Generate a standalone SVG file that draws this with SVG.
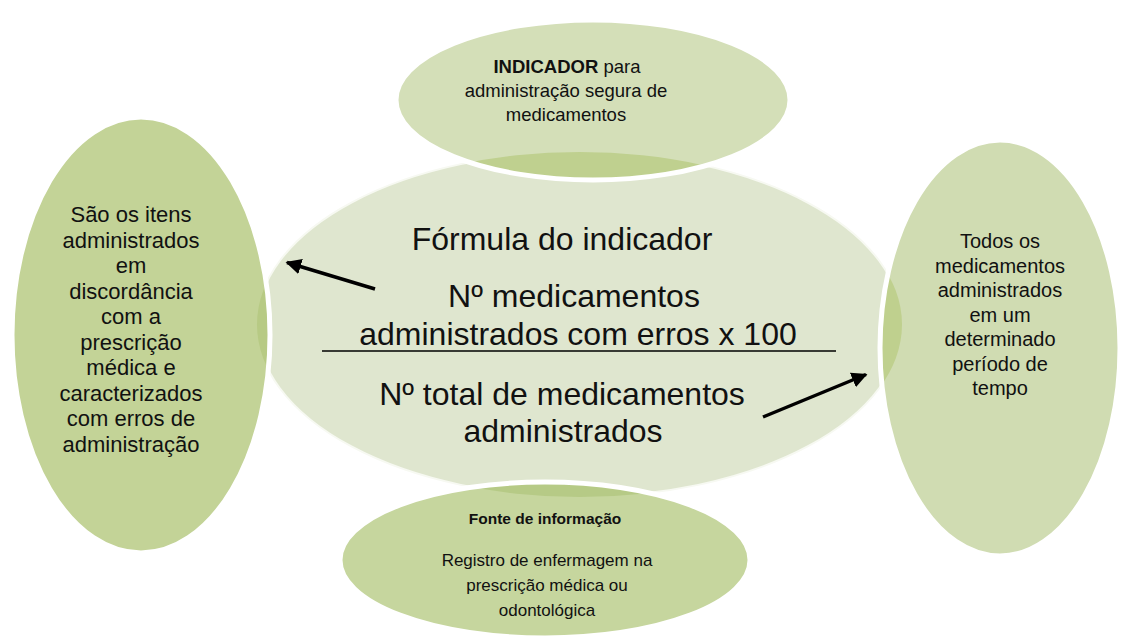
<svg xmlns="http://www.w3.org/2000/svg" width="1126" height="640" viewBox="0 0 1126 640">
<style>
text{font-family:"Liberation Sans",Arial,sans-serif;fill:#111;text-anchor:middle}
.main{font-size:32px}
.top{font-size:18.5px}
.left{font-size:22px}
.right{font-size:20px}
.bot{font-size:17px}
.edge{fill:none;stroke:#fff;stroke-width:5}
.conn{stroke:#000;stroke-width:3.5;fill:none}
</style>
<defs>
<ellipse id="eC" cx="579.5" cy="324.5" rx="322.5" ry="172.5"/>
<ellipse id="eT" cx="593" cy="100" rx="197" ry="80"/>
<ellipse id="eL" cx="141" cy="335" rx="129" ry="218"/>
<ellipse id="eR" cx="1000" cy="348" rx="120" ry="208"/>
<ellipse id="eB" cx="545" cy="560" rx="205" ry="78"/>
<clipPath id="cT"><use href="#eT"/></clipPath>
<clipPath id="cL"><use href="#eL"/></clipPath>
<clipPath id="cR"><use href="#eR"/></clipPath>
<clipPath id="cB"><use href="#eB"/></clipPath>
<marker id="ah" viewBox="0 0 10 10" refX="9" refY="5" markerWidth="4.5" markerHeight="4.5" orient="auto" markerUnits="strokeWidth">
<path d="M0,0 L10,5 L0,10 z" fill="#000"/>
</marker>
</defs>
<rect width="1126" height="640" fill="#fff"/>

<g id="center-node">
<use href="#eC" fill="#dfe6cf" stroke="#f7f9f2" stroke-width="2"/>
</g>
<g id="top-node">
<use href="#eT" fill="#d4dfb8"/>
<use href="#eC" fill="#bfd08f" clip-path="url(#cT)"/>
<use href="#eT" class="edge"/>
<text class="top" x="567" y="73"><tspan font-weight="bold">INDICADOR</tspan> para</text>
<text class="top" x="566" y="97">administração segura de</text>
<text class="top" x="566" y="121">medicamentos</text>
</g>
<g id="left-node">
<use href="#eL" fill="#c3d397"/>
<use href="#eC" fill="#b7ca84" clip-path="url(#cL)"/>
<use href="#eL" class="edge"/>
<text class="left" x="131" y="222">São os itens</text>
<text class="left" x="131" y="247.5">administrados</text>
<text class="left" x="131" y="273">em</text>
<text class="left" x="131" y="298.5">discordância</text>
<text class="left" x="131" y="324">com a</text>
<text class="left" x="131" y="349.5">prescrição</text>
<text class="left" x="131" y="375">médica e</text>
<text class="left" x="131" y="400.5">caracterizados</text>
<text class="left" x="131" y="426">com erros de</text>
<text class="left" x="131" y="451.5">administração</text>
</g>
<g id="right-node">
<use href="#eR" fill="#d0dcb2"/>
<use href="#eC" fill="#bfd08e" clip-path="url(#cR)"/>
<use href="#eR" class="edge"/>
<text class="right" x="1000" y="248">Todos os</text>
<text class="right" x="1000" y="272.5">medicamentos</text>
<text class="right" x="1000" y="297">administrados</text>
<text class="right" x="1000" y="321.5">em um</text>
<text class="right" x="1000" y="346">determinado</text>
<text class="right" x="1000" y="370.5">período de</text>
<text class="right" x="1000" y="395">tempo</text>
</g>
<g id="bottom-node">
<use href="#eB" fill="#c6d69e"/>
<use href="#eC" fill="#b6ca86" clip-path="url(#cB)"/>
<use href="#eB" class="edge"/>
<text x="545" y="524" font-weight="bold" font-size="15.5">Fonte de informação</text>
<text class="bot" x="547" y="566">Registro de enfermagem na</text>
<text class="bot" x="547" y="591">prescrição médica ou</text>
<text class="bot" x="547" y="616">odontológica</text>
</g>
<g id="formula">
<text class="main" x="562" y="250">Fórmula do indicador</text>
<text class="main" x="574" y="307">Nº medicamentos</text>
<text class="main" x="578" y="345">administrados com erros x 100</text>
<line x1="322" y1="351" x2="836" y2="351" stroke="#000" stroke-width="1.5"/>
<text class="main" x="562" y="405">Nº total de medicamentos</text>
<text class="main" x="563" y="442">administrados</text>
</g>
<g id="connectors">
<line class="conn" x1="375" y1="289" x2="287" y2="262.5" marker-end="url(#ah)"/>
<line class="conn" x1="763" y1="417" x2="866" y2="374.5" marker-end="url(#ah)"/>
</g>
</svg>
